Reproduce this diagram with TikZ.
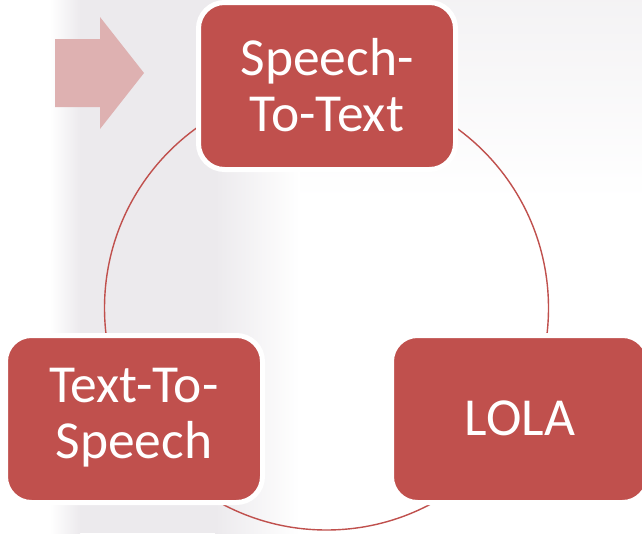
\documentclass[tikz,border=0pt]{standalone}
\usepackage{fontspec}
\setmainfont{Carlito}
\definecolor{boxred}{HTML}{C0504D}
\definecolor{arrowpink}{HTML}{DEB1B1}
\definecolor{haze}{HTML}{ECEAED}
\tikzset{
  stagebox/.style={draw=white, line width=5pt, fill=boxred, rounded corners=26pt,
    minimum width=257pt, minimum height=167pt, inner sep=0pt},
  stagetext/.style={text=white, align=center, inner sep=0pt,
    font=\fontsize{53.5pt}{56pt}\selectfont},
  ring/.style={draw=boxred, line width=1.4pt},
}
\begin{document}
\begin{tikzpicture}[x=1pt,y=-1pt]
  % page area and soft backdrop
  \fill[white] (0,0) rectangle (642,533);
  \shade[left color=white, right color=haze] (50,0) rectangle (80,533);
  \fill[haze] (80,0) rectangle (215,533);
  \shade[left color=haze, right color=white] (215,0) rectangle (300,533);
  \shade[top color=haze!60, bottom color=white] (300,0) rectangle (642,200);
  \useasboundingbox (0,0) rectangle (642,533);

  % cycle ring
  \coordinate (c) at (326.5,308);
  \draw[ring] (c) circle[radius=222pt];

  % entry arrow
  \fill[arrowpink] (55,39) -- (100,39) -- (100,17) -- (144,73) -- (100,129)
    -- (100,107) -- (55,107) -- cycle;

  % stages
  \node[stagebox] (stt) at (327,86) {};
  \node[stagebox] (lola) at (520,419) {};
  \node[stagebox] (tts) at (134,419) {};
  \node[stagetext] at ([yshift=1pt]stt.center) {Speech-\\To-Text};
  \node[stagetext] at ([yshift=1pt]lola.center) {LOLA};
  \node[stagetext] at ([yshift=1pt]tts.center) {Text-To-\\Speech};
\end{tikzpicture}
\end{document}
